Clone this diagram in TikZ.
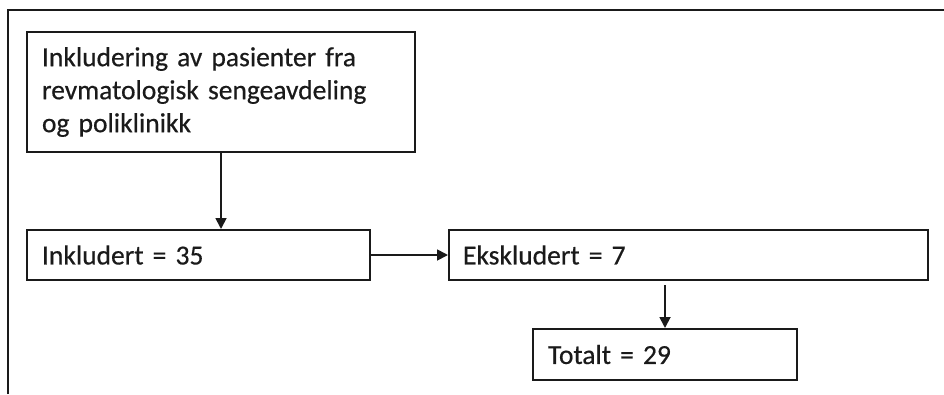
\documentclass[tikz,border=0pt]{standalone}
\usepackage{fontspec}
\setmainfont{Carlito}[WordSpace=0.75,FakeBold=0.5]
\usetikzlibrary{arrows.meta,calc}
\definecolor{ink}{HTML}{1A1A1A}
\tikzset{
  box/.style={draw=ink, line width=2pt, anchor=north west, inner xsep=15pt, inner ysep=0pt,
    align=left, text=ink, font=\fontsize{27.5}{33}\selectfont},
  conn/.style={draw=ink, line width=1.8pt, -{Triangle[width=11pt,length=11pt]}},
  frame/.style={draw=ink, line width=2pt}
}
\begin{document}
\begin{tikzpicture}[x=1pt,y=-1pt]
\useasboundingbox (0,0) rectangle (944,394);
\coordinate (fa) at (8,394);
\coordinate (fb) at (8,10);
\coordinate (fc) at (944,10);
\draw[frame] (fa) -- (fb) -- (fc);
\node[box, text width=358pt, minimum width=388pt, minimum height=120pt] (b1) at (26,31)
  {Inkludering av pasienter fra\\revmatologisk sengeavdeling\\og poliklinikk};
\node[box, text width=313pt, minimum width=343pt, minimum height=50pt] (b2) at (26,229) {Inkludert = 35};
\node[box, inner xsep=14pt, text width=451pt, minimum width=479pt, minimum height=50pt] (b3) at (448,229) {Ekskludert = 7};
\node[box, text width=234pt, minimum width=264pt, minimum height=51pt] (b4) at (532,328) {Totalt = 29};
\draw[conn] (b1.south) -- (b1.south |- b2.north);
\draw[conn] (b2.east) -- (b3.west);
\draw[conn, shorten <=4pt] (b4.north |- b3.south) -- (b4.north);
\end{tikzpicture}
\end{document}
